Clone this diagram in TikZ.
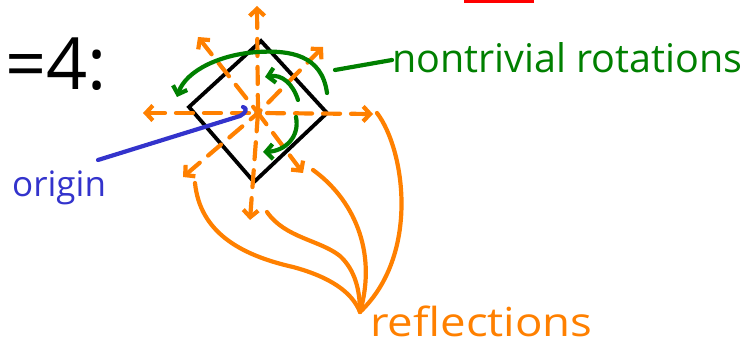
\documentclass[tikz,border=0pt]{standalone}
\usepackage{fontspec}
\setmainfont{Open Sans}
\usetikzlibrary{arrows.meta,shapes.geometric}
\definecolor{hor}{RGB}{255,128,0}
\definecolor{hgr}{RGB}{0,128,0}
\definecolor{hbl}{RGB}{51,51,204}
\begin{document}
\begin{tikzpicture}[x=1pt,y=-1pt,
  ink/.style={line width=4.2pt,line cap=round,line join=round},
  axisline/.style={ink,hor,dash pattern=on 17pt off 11pt},
  tipstart/.style={{Straight Barb[length=7pt,width=15pt]}-},
  tipend/.style={-{Straight Barb[length=7pt,width=15pt]}},
  rot/.style={ink,hgr,tipend},
  curve/.style={ink,hor},
  lbl/.style={inner sep=0pt,anchor=base west}]
\useasboundingbox (0,0) rectangle (747,347);
% red bar at top
\fill[red] (464,0) rectangle (534,3);
% title
\node[lbl,font=\fontsize{72}{72}\selectfont] (title) at (5,90) {=4:};
% square
\coordinate (vt) at (261,41);
\coordinate (vr) at (327,113);
\coordinate (vb) at (254,182);
\coordinate (vl) at (189,107);
\draw[line width=3.8pt,line join=miter] (vt) -- (vr) -- (vb) -- (vl) -- cycle;
% origin
\node[fill=black,ellipse,inner sep=0pt,minimum width=7pt,minimum height=11pt] (o) at (258,113) {};
% reflection axes tips
\coordinate (aN) at (257,6);
\coordinate (aS) at (250,220);
\coordinate (aW) at (143,113);
\coordinate (aE) at (373,114);
\coordinate (aNW) at (198,37);
\coordinate (aSE) at (303,173);
\coordinate (aNE) at (323,47);
\coordinate (aSW) at (183,177);
\foreach \t in {aN,aS,aW,aE,aNW,aSE,aNE,aSW}
  \draw[axisline,tipstart] (\t) -- (o.center);
% rotations
\draw[rot] (327,93) .. controls (322,55) and (290,50) .. (258,52)
           .. controls (222,54) and (186,70) .. (177,97);
\draw[rot] (298,100) .. controls (293,84) and (282,74) .. (265,77);
\draw[rot] (296,117) .. controls (300,137) and (285,151) .. (263,152);
\node[lbl,hgr,font=\fontsize{39.5}{39.5}\selectfont] (rotl) at (392,73) {nontrivial rotations};
\coordinate (rotend) at (335,70);
\draw[ink,hgr] (rotend) -- (rotl.west |- 0,60);
% origin label
\node[lbl,hbl,font=\fontsize{35}{35}\selectfont] (orl) at (12,197) {origin};
\draw[ink,hbl] (98,160) -- (240,116) .. controls (246,113) and (248,108) .. (243,107);
% reflections
\node[lbl,hor,font=\fontsize{40}{40}\selectfont] (refl) at (370,337) {\smash{\scalebox{1.14}[1]{reflections}}};
\coordinate (conv) at (360,312);
\draw[curve] (195,183) .. controls (200,232) and (240,255) .. (293,267)
             .. controls (330,277) and (352,292) .. (conv);
\draw[curve] (267,212) .. controls (285,238) and (320,240) .. (340,256)
             .. controls (355,270) and (360,290) .. (conv);
\draw[curve] (313,170) .. controls (352,198) and (378,250) .. (conv);
\draw[curve] (377,113) .. controls (405,150) and (420,255) .. (conv);
\end{tikzpicture}
\end{document}
